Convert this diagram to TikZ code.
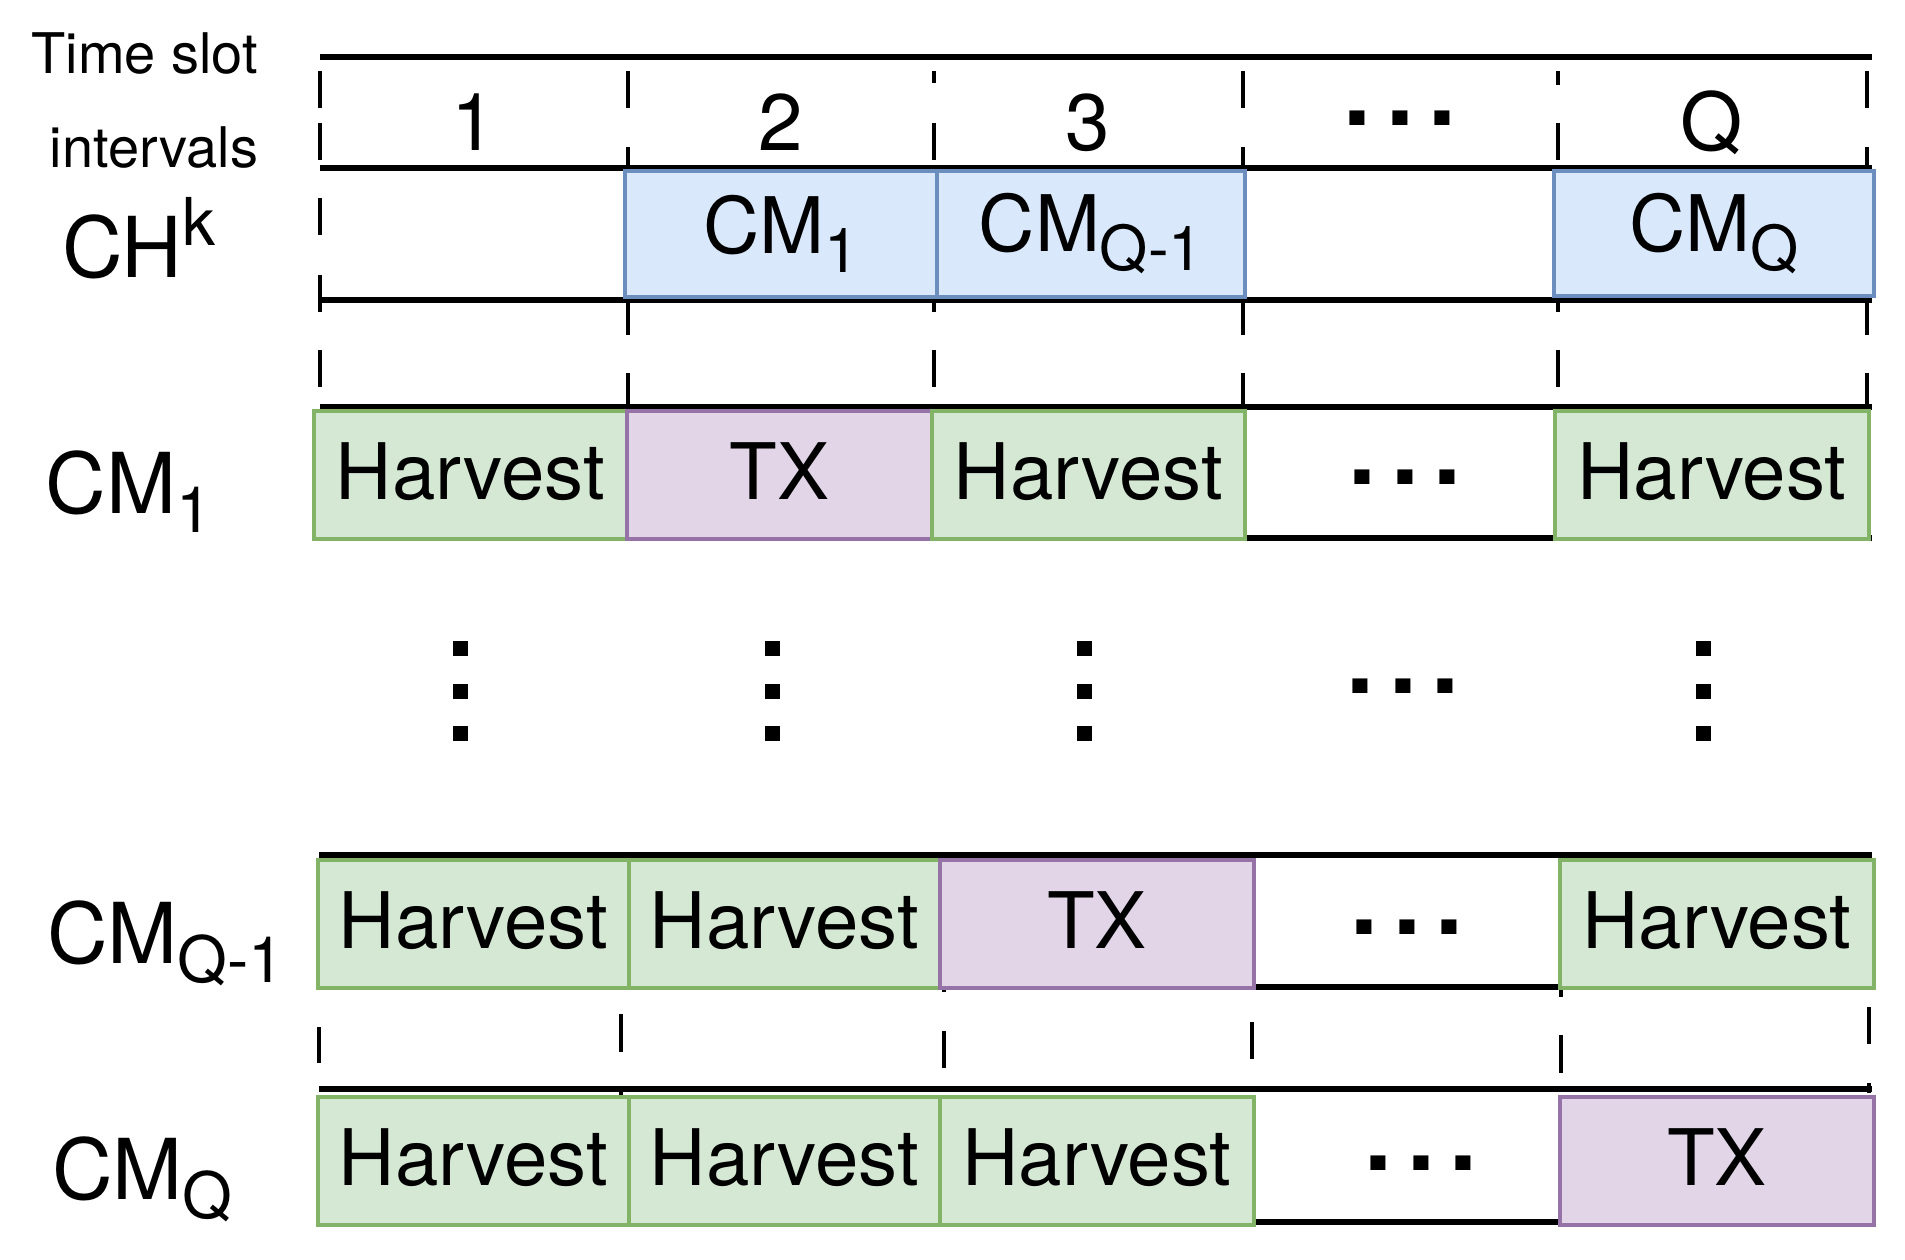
\documentclass[tikz,border=0pt]{standalone}
\usepackage{fontspec}
\setmainfont{TeX Gyre Heros}
\definecolor{bfill}{HTML}{DAE8FC}
\definecolor{bline}{HTML}{6C8EBF}
\definecolor{gfill}{HTML}{D5E8D4}
\definecolor{gline}{HTML}{82B366}
\definecolor{pfill}{HTML}{E1D5E7}
\definecolor{pline}{HTML}{9673A6}
\newcommand\mysub[2]{\raisebox{-9.5pt}{\fontsize{#1}{#1}\selectfont #2}}
\newcommand\mysup[2]{\raisebox{16pt}{\fontsize{#1}{#1}\selectfont #2}}
\newcommand\hdotsq{.\kern7.35pt.\kern7.35pt.}
\tikzset{
  rule/.style={line width=2.7pt, black},
  tick/.style={line width=2.1pt, black},
  sqdot/.style={fill=black},
  cell/.style={rectangle, inner sep=0pt, outer sep=0pt, line width=2.4pt, minimum height=64pt, font=\fontsize{39}{39}\selectfont},
  gbox/.style={cell, draw=gline, fill=gfill, text depth=4pt},
  pbox/.style={cell, draw=pline, fill=pfill, text depth=4pt},
  bbox/.style={cell, draw=bline, fill=bfill, minimum height=63pt},
  lab/.style={anchor=base west, inner sep=0pt, outer sep=0pt, font=\fontsize{42}{42}\selectfont},
  num/.style={anchor=base, inner sep=0pt, outer sep=0pt, font=\fontsize{40}{40}\selectfont},
  hd/.style={anchor=base east, inner sep=0pt, outer sep=0pt, font=\fontsize{28}{28}\selectfont},
  dotsq/.style={anchor=base, inner sep=0pt, outer sep=0pt, font=\fontsize{50}{50}\selectfont\bfseries},
}
\begin{document}
\begin{tikzpicture}[x=0.5pt, y=-0.5pt]
\useasboundingbox (0,0) rectangle (1905,1259);
\fill[white] (0,0) rectangle (1905,1259);
% horizontal rules
\foreach \y in {57,168,300,407,538}
  \draw[rule] (320,\y) -- (1872,\y);
\foreach \y in {855,987,1089,1222}
  \draw[rule] (319,\y) -- (1872,\y);
% dashed slot boundaries (top part)
\foreach \x/\a/\b in {
  320/71/108, 320/123/160, 320/198/235, 320/275/312, 320/350/387,
  628/71/108, 628/147/168, 628/302/335, 628/373/407,
  934/71/83, 934/123/160, 934/302/312, 934/350/387,
  1243/71/108, 1243/147/168, 1243/302/335, 1243/373/407,
  1558/71/85, 1558/123/160, 1558/302/312, 1558/350/387,
  1867/71/108, 1867/147/168, 1867/302/335, 1867/373/407}
  \draw[tick] (\x,\a) -- (\x,\b);
% dashed slot boundaries (bottom part)
\foreach \x/\a/\b in {
  319/1027/1063,
  621/1014/1052, 621/1089/1095,
  944/987/992, 944/1031/1068,
  1252/1022/1059,
  1561/990/997, 1561/1035/1073,
  1869/1007/1044, 1869/1083/1093}
  \draw[tick] (\x,\a) -- (\x,\b);
% header texts
\node[hd] (ts1) at (258,73) {Time slot};
\node[hd] (ts2) at (258,167) {intervals};
\node[num] (n1) at (474,150) {1};
\node[num] (n2) at (781,150) {2};
\node[num] (n3) at (1088,150) {3};
\node[num] (nq) at (1712,150) {Q};
\node[dotsq] (e0) at (1400,125) {\hdotsq};
% row labels
\node[lab] (lch) at (62,277) {CH\mysup{33}{k}};
\node[lab] (lcm1) at (46,513) {CM\mysub{32}{1}};
\node[lab] (lcmq1) at (47,963) {CM\mysub{32}{Q-1}};
\node[lab] (lcmq) at (52,1199) {CM\mysub{32}{Q}};
% CH row
\node[bbox, minimum width=156pt] (ch2) at (781,234) {CM\mysub{31}{1}};
\node[bbox, minimum width=154pt] (ch3) at (1091,234) {CM\mysub{31}{Q-1}};
\node[bbox, minimum width=160pt, minimum height=62.5pt] (chq) at (1714,233.5) {CM\mysub{31}{Q}};
% CM1 row
\node[gbox, minimum width=156.5pt] (a1) at (470.5,475) {Harvest};
\node[pbox, minimum width=152.5pt] (a2) at (779.5,475) {TX};
\node[gbox, minimum width=156.5pt] (a3) at (1088.5,475) {Harvest};
\node[dotsq] (e1) at (1405,484) {\hdotsq};
\node[gbox, minimum width=157pt] (aq) at (1712,475) {Harvest};
% vertical dots row
\foreach \c in {460,772,1084,1703}
  \foreach \t in {641,684,726}
    \fill[sqdot] ({\c-7.5},\t) rectangle ({\c+7.5},{\t+15});
\node[dotsq] (e2) at (1403,693) {\hdotsq};
% CMQ-1 row
\node[gbox, minimum width=155.5pt] (b1) at (473.5,924) {Harvest};
\node[gbox, minimum width=155.5pt] (b2) at (784.5,924) {Harvest};
\node[pbox, minimum width=157pt] (b3) at (1097,924) {TX};
\node[dotsq] (e3) at (1407,934) {\hdotsq};
\node[gbox, minimum width=157pt] (bq) at (1717,924) {Harvest};
% CMQ row
\node[gbox, minimum width=155.5pt] (c1) at (473.5,1161) {Harvest};
\node[gbox, minimum width=155.5pt] (c2) at (784.5,1161) {Harvest};
\node[gbox, minimum width=157pt] (c3) at (1097,1161) {Harvest};
\node[dotsq] (e4) at (1421,1170) {\hdotsq};
\node[pbox, minimum width=157pt] (cq) at (1717,1161) {TX};
\end{tikzpicture}
\end{document}
